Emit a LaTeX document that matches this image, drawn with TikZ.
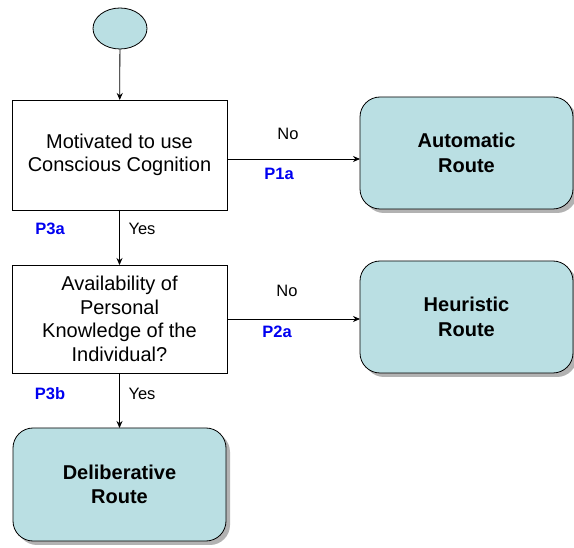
\documentclass[tikz,border=0pt]{standalone}
\usepackage{fontspec}
\setmainfont{Liberation Sans}
\usetikzlibrary{arrows.meta,shapes.geometric,shadows}
\definecolor{routefill}{RGB}{186,223,227}
\definecolor{propblue}{RGB}{0,0,240}
\begin{document}
\begin{tikzpicture}[x=1pt,y=-1pt,
  every node/.style={inner sep=0pt,outer sep=0pt},
  startnode/.style={ellipse,draw,line width=0.8pt,fill=routefill,minimum width=54pt,minimum height=41pt},
  flowbox/.style={rectangle,draw,line width=0.8pt,fill=white,minimum width=215pt,align=center,
    font=\fontsize{20}{23.5}\selectfont},
  routebox/.style={rectangle,rounded corners=20pt,draw,line width=0.8pt,fill=routefill,
    minimum width=213pt,align=center,font=\bfseries\fontsize{20}{24.5}\selectfont,
    drop shadow={shadow xshift=4pt,shadow yshift=-4pt,fill=black!30,opacity=1}},
  edgelabel/.style={font=\fontsize{16.5}{19}\selectfont},
  proplabel/.style={text=propblue,font=\bfseries\fontsize{16.5}{19}\selectfont},
  arr/.style={-{Stealth[length=7pt,width=6pt]},line width=0.8pt}]
\path[use as bounding box,fill=white] (0,0) rectangle (574,548);

% start and the two decisions
\node[startnode] (start) at (120,28.5) {};
\node[flowbox,minimum height=110pt] (motiv) at (119.5,155) {Motivated to use\\Conscious Cognition};
\node[flowbox,minimum height=108pt] (know) at (119.5,319) {Availability of\\Personal\\Knowledge of the\\Individual?};

% the three routes
\node[routebox,minimum height=112pt] (auto) at (466.5,153) {Automatic\\Route};
\node[routebox,minimum height=112pt] (heur) at (466.5,317) {Heuristic\\Route};
\node[routebox,minimum height=113pt] (delib) at (119.5,484.5) {Deliberative\\Route};

% connectors
\draw[arr] (start) -- (motiv);
\draw[arr] ([yshift=-4pt]motiv.east) -- ([yshift=-4pt]motiv.east -| auto.west);
\draw[arr] (motiv) -- (know);
\draw[arr] (know.east) -- (know.east -| heur.west);
\draw[arr] (know) -- (delib);

% answers and propositions
\node[edgelabel] (no1) at (288,133.5) {No};
\node[proplabel] (p1a) at (279,174) {P1a};
\node[edgelabel] (yes1) at (142,229) {Yes};
\node[proplabel] (p3a) at (50,229) {P3a};
\node[edgelabel] (no2) at (287,291) {No};
\node[proplabel] (p2a) at (277,332) {P2a};
\node[edgelabel] (yes2) at (142,393.5) {Yes};
\node[proplabel] (p3b) at (50,393.5) {P3b};
\end{tikzpicture}
\end{document}
